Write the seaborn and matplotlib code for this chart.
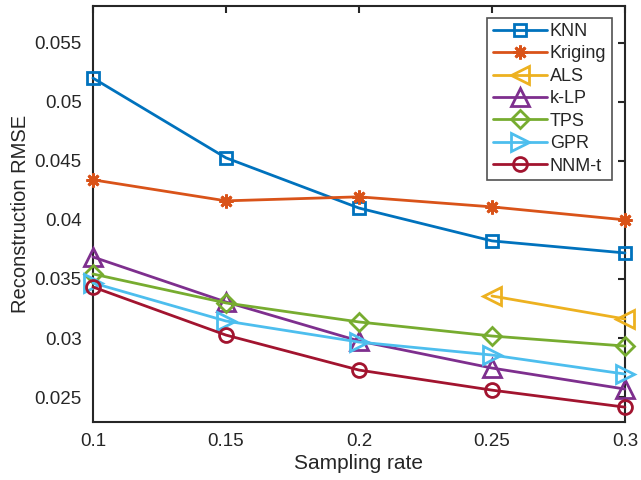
import numpy as np
import pandas as pd
import matplotlib
matplotlib.use("Agg")
import matplotlib.pyplot as plt
import seaborn as sns

rates = [0.1, 0.15, 0.2, 0.25, 0.3]
methods = ["KNN", "Kriging", "ALS", "k-LP", "TPS", "GPR", "NNM-t"]
knn = [0.0520, 0.04525, 0.0410, 0.03822, 0.0372]
kriging = [0.04339, 0.04161, 0.04195, 0.0411, 0.0400]
als = [np.nan, np.nan, np.nan, 0.03356, 0.03161]
klp = [0.03686, 0.03305, 0.02975, 0.02746, 0.02568]
tps = [0.03542, 0.03297, 0.03136, 0.03017, 0.02932]
gpr = [0.03466, 0.03144, 0.02966, 0.02856, 0.02695]
nnmt = [0.03432, 0.03025, 0.02729, 0.02559, 0.02415]
series = [knn, kriging, als, klp, tps, gpr, nnmt]
xticks = [0.1, 0.15, 0.2, 0.25, 0.3]
xticklabels = ["0.1", "0.15", "0.2", "0.25", "0.3"]
yticks = [0.025, 0.03, 0.035, 0.04, 0.045, 0.05, 0.055]
yticklabels = ["0.025", "0.03", "0.035", "0.04", "0.045", "0.05", "0.055"]

colors = ["#0072BD", "#D95319", "#EDB120", "#7E2F8E", "#77AC30", "#4DBEEE", "#A2142F"]
markers = ["s", (8, 2, 0), "<", "^", "D", ">", "o"]
msizes = [8, 10, 13, 13, 9, 13, 10]

sns.set_theme(style="white")
plt.rcParams["font.family"] = ["Liberation Sans", "DejaVu Sans"]

fig = plt.figure(figsize=(6.41, 4.8), dpi=100)
ax = fig.add_axes([0.145, 0.121, 0.830, 0.8665])

for name, vals, c, m, ms in zip(methods, series, colors, markers, msizes):
    df = pd.DataFrame({"rate": rates, "rmse": vals}).dropna()
    sns.lineplot(data=df, x="rate", y="rmse", ax=ax, color=c, marker=m,
                 markersize=ms, markerfacecolor="none", markeredgecolor=c,
                 markeredgewidth=2, linewidth=2, label=name, clip_on=False,
                 zorder=3)

ax.set_xlim(0.1, 0.3)
ax.set_ylim(0.0229, 0.0581)
ax.set_xticks(xticks)
ax.set_xticklabels(xticklabels)
ax.set_yticks(yticks)
ax.set_yticklabels(yticklabels)
ax.set_xlabel("Sampling rate", fontsize=15, color="#262626", labelpad=3)
ax.set_ylabel("Reconstruction RMSE", fontsize=14.5, color="#262626", labelpad=3)
ax.tick_params(direction="in", length=5, width=1.5, top=True, right=True,
               labelsize=13.5, colors="#262626", pad=8)
for s in ax.spines.values():
    s.set_visible(True)
    s.set_color("#262626")
    s.set_linewidth(1.5)

leg = ax.legend(loc="upper right", bbox_to_anchor=(0.985, 0.985), fontsize=13,
                frameon=True, fancybox=False, edgecolor="#262626",
                handlelength=3.0, handletextpad=0.15, borderpad=0.3,
                labelspacing=0.3, borderaxespad=0.3)
leg.get_frame().set_linewidth(1.2)
leg.set_zorder(5)

fig.savefig("out.png", dpi=100)
